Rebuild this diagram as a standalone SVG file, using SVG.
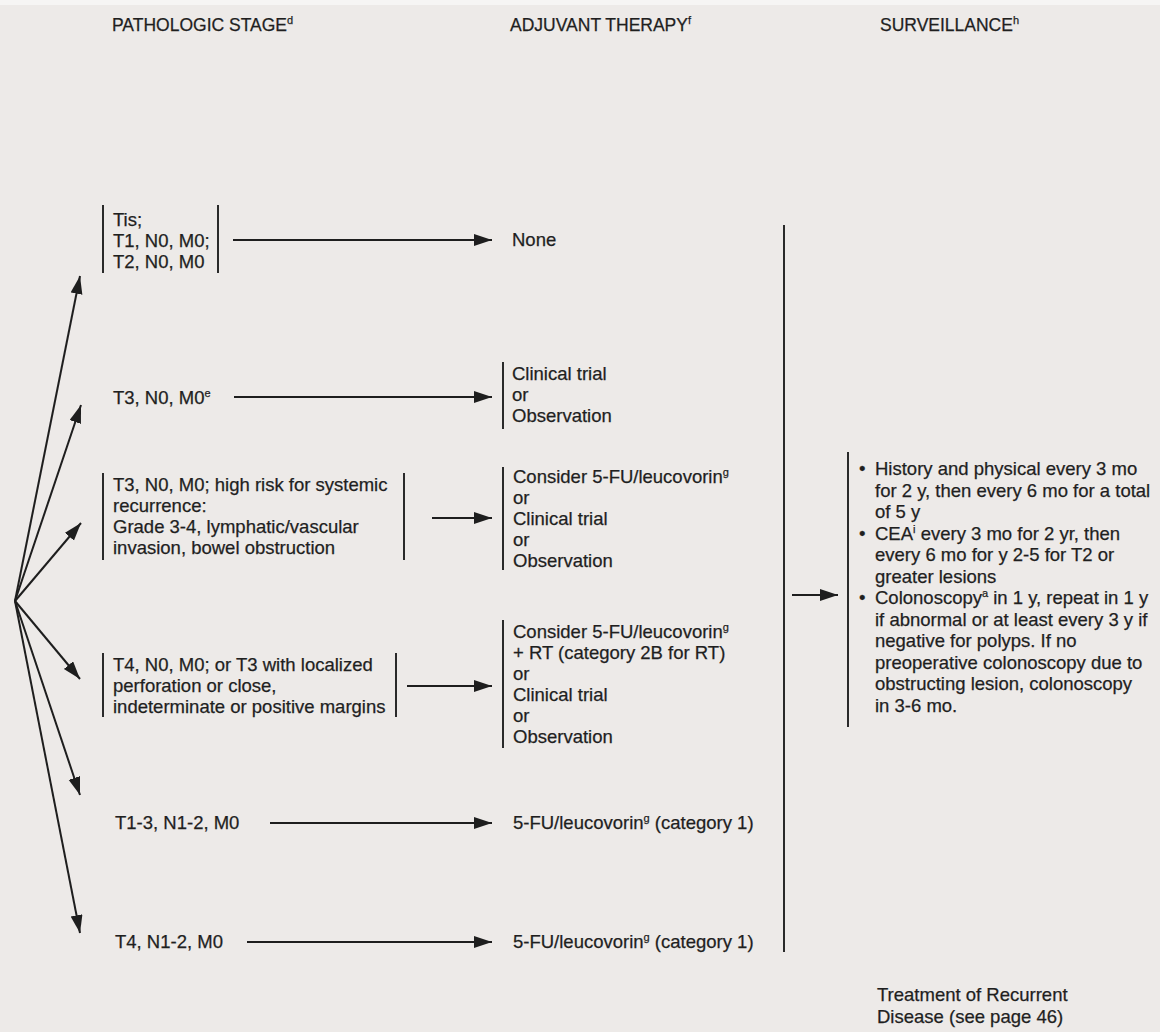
<svg xmlns="http://www.w3.org/2000/svg" width="1160" height="1032" viewBox="0 0 1160 1032">
<defs>
<marker id="ah" markerUnits="userSpaceOnUse" markerWidth="20" markerHeight="14" refX="18" refY="6" orient="auto">
<path d="M0,0 L18,6 L0,12 z" fill="#1e1e1e"/>
</marker>
<style>
text{font-family:"Liberation Sans",Arial,sans-serif;font-size:18.5px;fill:#1f1f1f;stroke:#1f1f1f;stroke-width:0.25}
.hd{font-size:17.5px}
.sup{font-size:11px}
.br{stroke:#2a2a2a;stroke-width:2;fill:none}
.ar{stroke:#1e1e1e;stroke-width:2;fill:none;marker-end:url(#ah)}
</style>
</defs>
<rect width="1160" height="1032" fill="#edeae8"/>
<rect width="1160" height="5" fill="#f6f5f4"/>

<g id="headers">
<text class="hd" x="112" y="31">PATHOLOGIC STAGE<tspan class="sup" dy="-7">d</tspan></text>
<text class="hd" x="510" y="31">ADJUVANT THERAPY<tspan class="sup" dy="-7">f</tspan></text>
<text class="hd" x="880" y="31">SURVEILLANCE<tspan class="sup" dy="-7">h</tspan></text>
</g>

<g id="connectors">
<line class="ar" x1="15" y1="601" x2="80" y2="276"/>
<line class="ar" x1="15" y1="601" x2="81" y2="405"/>
<line class="ar" x1="15" y1="601" x2="81" y2="523"/>
<line class="ar" x1="15" y1="601" x2="80" y2="679"/>
<line class="ar" x1="15" y1="601" x2="80" y2="795"/>
<line class="ar" x1="15" y1="601" x2="80" y2="933"/>
<line class="ar" x1="233" y1="240" x2="492" y2="240"/>
<line class="ar" x1="234" y1="397" x2="492" y2="397"/>
<line class="ar" x1="432" y1="518" x2="492" y2="518"/>
<line class="ar" x1="407" y1="686" x2="492" y2="686"/>
<line class="ar" x1="270" y1="823" x2="492" y2="823"/>
<line class="ar" x1="247" y1="942" x2="492" y2="942"/>
<line class="br" x1="784" y1="225" x2="784" y2="952"/>
<line class="ar" x1="792" y1="595" x2="838" y2="595"/>
</g>

<g id="stage-tis">
<line class="br" x1="103" y1="205" x2="103" y2="273"/>
<line class="br" x1="218" y1="205" x2="218" y2="273"/>
<text x="113" y="226">Tis;</text>
<text x="113" y="247">T1, N0, M0;</text>
<text x="113" y="268">T2, N0, M0</text>
</g>

<g id="stage-t3n0">
<text x="113" y="404">T3, N0, M0<tspan class="sup" dy="-7">e</tspan></text>
</g>

<g id="stage-t3-highrisk">
<line class="br" x1="103" y1="473" x2="103" y2="560"/>
<line class="br" x1="404" y1="473" x2="404" y2="560"/>
<text x="113" y="491">T3, N0, M0; high risk for systemic</text>
<text x="113" y="512">recurrence:</text>
<text x="113" y="533">Grade 3-4, lymphatic/vascular</text>
<text x="113" y="554">invasion, bowel obstruction</text>
</g>

<g id="stage-t4n0">
<line class="br" x1="103" y1="653" x2="103" y2="717"/>
<line class="br" x1="396" y1="653" x2="396" y2="717"/>
<text x="113" y="671">T4, N0, M0; or T3 with localized</text>
<text x="113" y="692">perforation or close,</text>
<text x="113" y="713">indeterminate or positive margins</text>
</g>

<g id="stage-t13n12">
<text x="115" y="829">T1-3, N1-2, M0</text>
</g>

<g id="stage-t4n12">
<text x="115" y="948">T4, N1-2, M0</text>
</g>

<g id="therapy-none">
<text x="512" y="246">None</text>
</g>

<g id="therapy-trial">
<line class="br" x1="503" y1="362" x2="503" y2="429"/>
<text x="512" y="380">Clinical trial</text>
<text x="512" y="401">or</text>
<text x="512" y="422">Observation</text>
</g>

<g id="therapy-consider">
<line class="br" x1="503" y1="467" x2="503" y2="570"/>
<text x="513" y="483">Consider 5-FU/leucovorin<tspan class="sup" dy="-7">g</tspan></text>
<text x="513" y="504">or</text>
<text x="513" y="525">Clinical trial</text>
<text x="513" y="546">or</text>
<text x="513" y="567">Observation</text>
</g>

<g id="therapy-consider-rt">
<line class="br" x1="503" y1="620" x2="503" y2="748"/>
<text x="513" y="638">Consider 5-FU/leucovorin<tspan class="sup" dy="-7">g</tspan></text>
<text x="513" y="659">+ RT (category 2B for RT)</text>
<text x="513" y="680">or</text>
<text x="513" y="701">Clinical trial</text>
<text x="513" y="722">or</text>
<text x="513" y="743">Observation</text>
</g>

<g id="therapy-5fu-1">
<text x="513" y="829">5-FU/leucovorin<tspan class="sup" dy="-7">g</tspan><tspan dy="7"> (category 1)</tspan></text>
</g>

<g id="therapy-5fu-2">
<text x="513" y="948">5-FU/leucovorin<tspan class="sup" dy="-7">g</tspan><tspan dy="7"> (category 1)</tspan></text>
</g>

<g id="surveillance">
<line class="br" x1="848" y1="452" x2="848" y2="727"/>
<text x="859" y="475">•</text>
<text x="875" y="475">History and physical every 3 mo</text>
<text x="875" y="496.5">for 2 y, then every 6 mo for a total</text>
<text x="875" y="518">of 5 y</text>
<text x="859" y="539.5">•</text>
<text x="875" y="539.5">CEA<tspan class="sup" dy="-7">i</tspan><tspan dy="7"> every 3 mo for 2 yr, then</tspan></text>
<text x="875" y="561">every 6 mo for y 2-5 for T2 or</text>
<text x="875" y="582.5">greater lesions</text>
<text x="859" y="604">•</text>
<text x="875" y="604">Colonoscopy<tspan class="sup" dy="-7">a</tspan><tspan dy="7"> in 1 y, repeat in 1 y</tspan></text>
<text x="875" y="625.5">if abnormal or at least every 3 y if</text>
<text x="875" y="647">negative for polyps. If no</text>
<text x="875" y="668.5">preoperative colonoscopy due to</text>
<text x="875" y="690">obstructing lesion, colonoscopy</text>
<text x="875" y="711.5">in 3-6 mo.</text>
</g>

<g id="recurrent">
<text x="877" y="1001">Treatment of Recurrent</text>
<text x="877" y="1023">Disease (see page 46)</text>
</g>
</svg>
